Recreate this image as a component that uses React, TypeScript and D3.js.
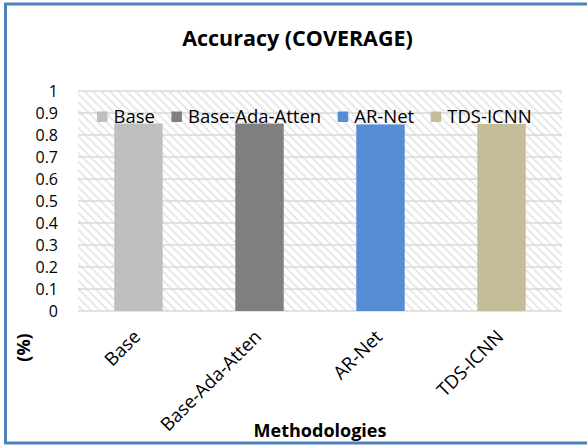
import React, { useEffect, useRef } from "react";
import * as d3 from "d3";

// Accuracy (coverage) per methodology
const methods = ["Base", "Base-Ada-Atten", "AR-Net", "TDS-ICNN"];
const accuracy = [0.852, 0.852, 0.848, 0.85];
const colors = ["#bfbfbf", "#7f7f7f", "#558ed5", "#c4bd97"];
const yTicks = [0, 0.1, 0.2, 0.3, 0.4, 0.5, 0.6, 0.7, 0.8, 0.9, 1];
const yTickLabels = ["0", "0.1", "0.2", "0.3", "0.4", "0.5", "0.6", "0.7", "0.8", "0.9", "1"];

const W = 587;
const H = 446;
const FONT = "'Open Sans', sans-serif";
const LABEL_SIZE = 18.5;
const TICK_SIZE = 16;

export default function App() {
  const ref = useRef<SVGSVGElement | null>(null);

  useEffect(() => {
    const svg = d3.select(ref.current);
    svg.selectAll("*").remove();

    const plot = { left: 78, right: 562, top: 91, bottom: 311 };

    const x = d3.scaleBand<string>().domain(methods).range([plot.left, plot.right]).paddingInner(0.6).paddingOuter(0.3);
    const y = d3.scaleLinear().domain([0, 1]).range([plot.bottom, plot.top]);

    // diagonal hatch for the plot background
    const defs = svg.append("defs");
    const pat = defs
      .append("pattern")
      .attr("id", "hatch")
      .attr("patternUnits", "userSpaceOnUse")
      .attr("width", 6)
      .attr("height", 6)
      .attr("patternTransform", "rotate(-45)");
    pat.append("rect").attr("width", 6).attr("height", 6).attr("fill", "#ffffff");
    pat.append("rect").attr("x", 0).attr("width", 2).attr("height", 6).attr("fill", "#e8e8e8");

    svg.append("rect").attr("width", W).attr("height", H).attr("fill", "#ffffff");

    svg
      .append("rect")
      .attr("x", plot.left)
      .attr("y", plot.top)
      .attr("width", plot.right - plot.left)
      .attr("height", plot.bottom - plot.top)
      .attr("fill", "url(#hatch)");

    // gridlines
    svg
      .append("g")
      .selectAll("line")
      .data(yTicks)
      .join("line")
      .attr("x1", plot.left)
      .attr("x2", plot.right)
      .attr("y1", (d) => y(d))
      .attr("y2", (d) => y(d))
      .attr("stroke", "#d9d9d9")
      .attr("stroke-width", 1.6);

    // bars
    svg
      .append("g")
      .selectAll("rect")
      .data(methods)
      .join("rect")
      .attr("x", (d) => x(d)!)
      .attr("width", x.bandwidth())
      .attr("y", (d, i) => y(accuracy[i]))
      .attr("height", (d, i) => y(0) - y(accuracy[i]))
      .attr("fill", (d, i) => colors[i]);

    // y tick labels
    svg
      .append("g")
      .selectAll("text")
      .data(yTicks)
      .join("text")
      .attr("x", 58)
      .attr("y", (d) => y(d) + 5.8)
      .attr("text-anchor", "end")
      .attr("font-family", FONT)
      .attr("font-size", TICK_SIZE)
      .attr("fill", "#000")
      .text((d, i) => yTickLabels[i]);

    // rotated category labels
    svg
      .append("g")
      .selectAll("text")
      .data(methods)
      .join("text")
      .attr("transform", (d) => `translate(${x(d)! + x.bandwidth() / 2 + 3},338) rotate(-45)`)
      .attr("text-anchor", "end")
      .attr("font-family", FONT)
      .attr("font-size", LABEL_SIZE)
      .attr("fill", "#000")
      .text((d) => d);

    // legend inside the plot area
    const legend = svg.append("g").attr("font-family", FONT).attr("font-size", LABEL_SIZE);
    let lx = 97;
    methods.forEach((m, i) => {
      legend.append("rect").attr("x", lx).attr("y", 111.5).attr("width", 10.5).attr("height", 10.5).attr("fill", colors[i]);
      const t = legend
        .append("text")
        .attr("x", lx + 16.5)
        .attr("y", 122.5)
        .attr("fill", "#000")
        .text(m);
      const w = (t.node() as SVGTextElement).getComputedTextLength();
      lx = lx + 16.5 + w + 16.5;
    });

    // title
    svg
      .append("text")
      .attr("x", 297.5)
      .attr("y", 46)
      .attr("text-anchor", "middle")
      .attr("font-family", FONT)
      .attr("font-weight", "bold")
      .attr("font-size", 21.5)
      .attr("fill", "#000")
      .text("Accuracy (COVERAGE)");

    // axis titles
    svg
      .append("text")
      .attr("x", (plot.left + plot.right) / 2)
      .attr("y", 436.5)
      .attr("text-anchor", "middle")
      .attr("font-family", FONT)
      .attr("font-weight", "bold")
      .attr("font-size", 18)
      .attr("fill", "#000")
      .text("Methodologies");

    svg
      .append("text")
      .attr("transform", "translate(30,347.5) rotate(-90)")
      .attr("text-anchor", "middle")
      .attr("font-family", FONT)
      .attr("font-weight", "bold")
      .attr("font-size", 18)
      .attr("fill", "#000")
      .text("(%)");

    // chart frame
    svg
      .append("rect")
      .attr("x", 5.5)
      .attr("y", 4)
      .attr("width", 620)
      .attr("height", 439)
      .attr("fill", "none")
      .attr("stroke", "#4f81bd")
      .attr("stroke-width", 3);
  }, []);

  return (
    <svg
      ref={ref}
      width={W}
      height={H}
      style={{ position: "fixed", left: 0, top: 0, display: "block" }}
    />
  );
}
